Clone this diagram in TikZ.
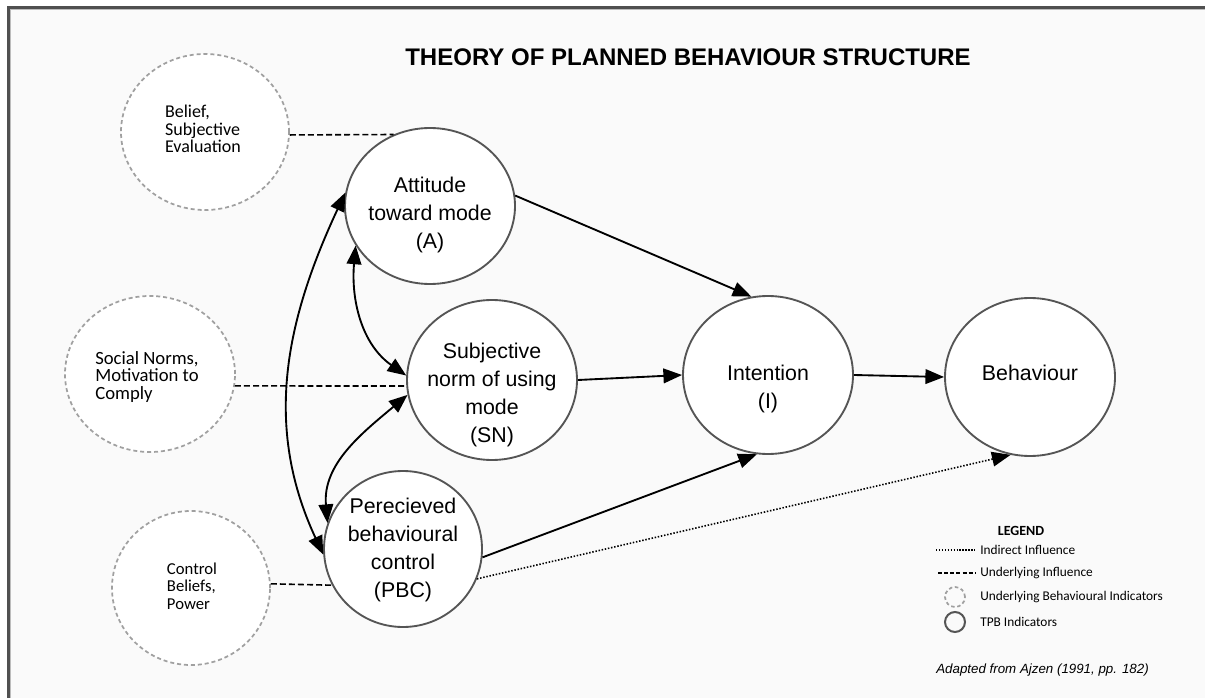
\documentclass[tikz,border=0pt]{standalone}
\usepackage{fontspec}
\setmainfont{Liberation Sans}
\newfontfamily\calibri{Carlito}
\usetikzlibrary{shapes.geometric,arrows.meta}
\definecolor{rim}{HTML}{555555}
\definecolor{soft}{HTML}{A0A0A0}
\definecolor{paper}{HTML}{FAFAFA}
\definecolor{frameline}{HTML}{505050}

\begin{document}
\begin{tikzpicture}[x=0.75pt,y=0.75pt,
  px size/.style 2 args={minimum width=#1*0.75pt, minimum height=#2*0.75pt},
  tpb/.style={ellipse, draw=rim, line width=1.4pt, fill=white, inner sep=0pt},
  ubi/.style={ellipse, draw=soft, line width=1.3pt, dash pattern=on 3pt off 2.2pt, fill=white, inner sep=0pt},
  tpbtext/.style={font=\fontsize{16}{21}\selectfont, align=center, inner sep=0pt},
  ubitext/.style={font=\calibri\fontsize{13.5}{13}\selectfont, align=left, inner sep=0pt},
  head/.tip={Triangle[length=14pt,width=11pt]},
  link/.style={line width=1.4pt, -head},
  both/.style={line width=1.4pt, head-head},
  under/.style={line width=1.2pt, dash pattern=on 4.5pt off 2.3pt},
  indirect/.style={line width=1.2pt, dash pattern=on 1.1pt off 1.3pt},
  legtext/.style={font=\calibri\fontsize{10}{12}\selectfont, anchor=west, inner sep=0pt}
]
\useasboundingbox (0,0) rectangle (1205,-698);

% page and frame
\fill[white] (0,0) rectangle (1205,-698);
\fill[paper] (8,-7) rectangle (1205,-698);
\draw[frameline, line width=2.25pt] (8.5,-698) -- (8.5,-7.5) -- (1205,-7.5);
\draw[soft!70, line width=0.6pt] (10.4,-698) -- (10.4,-9.4) -- (1205,-9.4);

% title
\node[font=\bfseries\fontsize{18}{22}\selectfont] (title) at (688,-57) {THEORY OF PLANNED BEHAVIOUR STRUCTURE};

% underlying behavioural indicators
\node[ubi, px size={168}{156}] (Be) at (205,-132) {};
\node[ubi, px size={170}{156}] (So) at (150,-374) {};
\node[ubi, px size={158}{154}] (Co) at (191,-588) {};
\node[ubitext] (Be-t) at (203,-129) {Belief,\\Subjective\\Evaluation};
\node[ubitext, font=\calibri\fontsize{14}{13}\selectfont] (So-t) at (147,-377) {Social Norms,\\Motivation to\\Comply};
\node[ubitext, font=\calibri\fontsize{12.5}{13}\selectfont] (Co-t) at (192,-586) {Control\\Beliefs,\\Power};

% TPB indicators
\node[tpb, px size={170}{156}] (At) at (430,-206) {};
\node[tpb, px size={170}{160}] (SN) at (492,-380) {};
\node[tpb, px size={158}{156}] (P)  at (403,-549) {};
\node[tpb, px size={170}{158}] (I)  at (768,-375) {};
\node[tpb, px size={170}{158}] (Bh) at (1030,-377) {};

\node[tpbtext] (At-t) at (430,-215) {Attitude\\toward mode\\(A)};
\node[tpbtext] (SN-t) at (492,-395) {Subjective\\norm of using\\mode\\(SN)};
\node[tpbtext] (P-t)  at (403,-550) {Perecieved\\behavioural\\control\\(PBC)};
\node[tpbtext] (I-t)  at (768,-389) {Intention\\(I)};
\node[tpbtext] (Bh-t) at (1030,-373) {Behaviour};

% underlying influences
\draw[under] (Be.-2) -- (At.117);
\draw[under] (So.-8) -- (SN.184);
\draw[under] (Co.3) -- (P.207);

% correlations between the antecedents
\draw[both] (At.171) to[out=245,in=115] (P.184);
\draw[both] (At.208) to[out=265,in=145] (SN.177);
\draw[both] (SN.190) to[out=220,in=95] (P.161);

% direct paths
\draw[link] (At.7) -- (I.102);
\draw[link] (SN.east) -- (I.west);
\draw[link] (P.-6) -- (I.-98);
\draw[link] (I.east) -- (Bh.west);

% indirect path
\draw[indirect, -head] (P.-22) -- (Bh.-104);

% legend
\node[font=\calibri\bfseries\fontsize{10.5}{12}\selectfont] (leg) at (1021,-531) {LEGEND};
\coordinate (d1) at (936,-550);
\coordinate (d2) at (977,-550);
\draw[line width=1pt, dash pattern=on 1pt off 1.2pt] (d1) -- (d2);
\node[legtext] (lt1) at (980,-550) {Indirect Influence};
\coordinate (u1) at (938,-573);
\coordinate (u2) at (975,-573);
\draw[line width=1pt, dash pattern=on 3pt off 1.6pt] (u1) -- (u2);
\node[legtext] (lt2) at (980,-573) {Underlying Influence};
\node[circle, draw=soft, line width=1.3pt, dash pattern=on 2.6pt off 2pt, minimum size=20*0.75pt, inner sep=0pt] (lc1) at (955,-597) {};
\node[legtext] (lt3) at (980,-597) {Underlying Behavioural Indicators};
\node[circle, draw=rim, line width=1.5pt, minimum size=20*0.75pt, inner sep=0pt] (lc2) at (955,-622) {};
\node[legtext] (lt4) at (980,-622) {TPB Indicators};

\node[anchor=west, inner sep=0pt, font=\itshape\fontsize{10}{12}\selectfont] (src) at (936,-670) {Adapted from Ajzen (1991, pp. 182)};
\end{tikzpicture}
\end{document}
